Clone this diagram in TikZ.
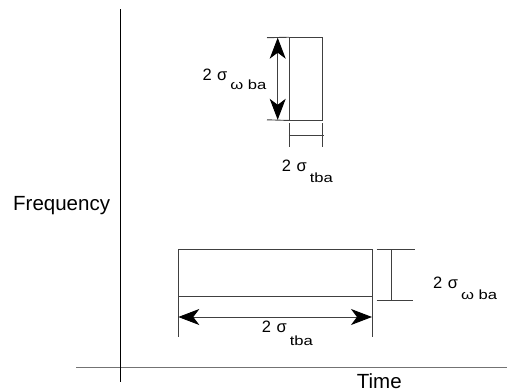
\documentclass[tikz,border=0pt]{standalone}
\usepackage{fontspec}
\setmainfont{Liberation Sans}
\usetikzlibrary{arrows.meta}
\newcommand\subtx[2]{\raisebox{-#1pt}{\scalebox{1.25}[1]{\fontsize{13.3}{14}\selectfont #2}}}
\begin{document}
\begin{tikzpicture}[x=1pt,y=-1pt,
  thinline/.style={draw=black!75,line width=0.9pt},
  axisx/.style={draw=black!55,line width=1.4pt},
  axisy/.style={draw=black,line width=1.3pt},
  boxr/.style={draw=black!75,line width=0.9pt,inner sep=0pt},
  dimarrow/.style={draw=black!75,line width=0.9pt,{Stealth[length=21pt,width=16pt,inset=6pt,color=black]}-{Stealth[length=21pt,width=16pt,inset=6pt,color=black]}},
  axlbl/.style={inner sep=0pt,anchor=base west,font=\fontsize{20.5}{22}\selectfont},
  siglbl/.style={inner sep=0pt,anchor=base west,font=\fontsize{16.5}{18}\selectfont}]
\useasboundingbox (0,0) rectangle (507,391);
% axes
\coordinate (ya) at (120.3,9);
\coordinate (yb) at (120.3,382);
\coordinate (xa) at (76,367.7);
\coordinate (xb) at (507,367.7);
\draw[axisx] (xa) -- (xb);
\draw[axisy] (ya) -- (yb);
\node[axlbl] (freq) at (13,210.4) {Frequency};
\node[axlbl] (time) at (356.7,388) {Time};
% small rectangle
\node[boxr,minimum width=33.4pt,minimum height=82.3pt] (small) at (306,78.85) {};
\coordinate (s1) at (267,37.7);
\coordinate (s2) at (267,119.8);
\draw[thinline] (s1) -- (small.north west);
\draw[thinline] (s2) -- (small.south west);
\coordinate (sa) at (277.7,37.7);
\coordinate (sb) at (277.7,119.8);
\draw[dimarrow] (sa) -- (sb);
\coordinate (s3) at (289.3,123);
\coordinate (s4) at (289.3,147);
\coordinate (s5) at (322.7,123);
\coordinate (s6) at (322.7,147);
\coordinate (s7) at (288.8,135);
\coordinate (s8) at (324.3,135);
\draw[thinline] (s3) -- (s4);
\draw[thinline] (s5) -- (s6);
\draw[thinline] (s7) -- (s8);
\node[siglbl] (l1) at (202.3,80) {2\hspace{5.5pt}σ\hspace{3pt}\subtx{9.3}{ω ba}};
\node[siglbl] (l2) at (281.7,171) {2\hspace{5.5pt}σ\hspace{3pt}\subtx{11.7}{tba}};
% big rectangle
\node[boxr,minimum width=193.7pt,minimum height=47pt] (big) at (275.15,272.5) {};
\coordinate (b1) at (376.7,249);
\coordinate (b2) at (415,249);
\coordinate (b3) at (376.7,300);
\coordinate (b4) at (413,300);
\coordinate (b5) at (391,249);
\coordinate (b6) at (391,300);
\draw[thinline] (b1) -- (b2);
\draw[thinline] (b3) -- (b4);
\draw[thinline] (b5) -- (b6);
\coordinate (c1) at (178.3,297);
\coordinate (c2) at (178.3,337);
\coordinate (c3) at (372,297);
\coordinate (c4) at (372,337);
\draw[thinline] (c1) -- (c2);
\draw[thinline] (c3) -- (c4);
\coordinate (ca) at (178.3,317);
\coordinate (cb) at (372,317);
\draw[dimarrow] (ca) -- (cb);
\node[siglbl] (l3) at (433,288.3) {2\hspace{5.5pt}σ\hspace{3pt}\subtx{11}{ω ba}};
\node[siglbl] (l4) at (261.7,332.7) {2\hspace{5.5pt}σ\hspace{3pt}\subtx{13}{tba}};
\end{tikzpicture}
\end{document}
